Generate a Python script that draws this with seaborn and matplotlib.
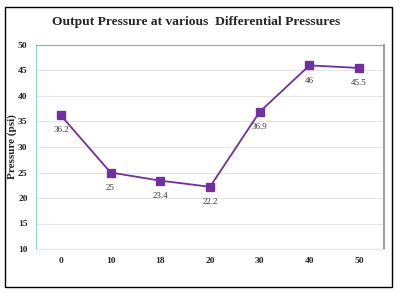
import matplotlib
matplotlib.use("Agg")
import matplotlib.pyplot as plt
import seaborn as sns
import pandas as pd
from matplotlib.patches import Rectangle

# data
diff_pressure = ["0", "10", "18", "20", "30", "40", "50"]
output_pressure = [36.2, 25, 23.4, 22.2, 36.9, 46, 45.5]

df = pd.DataFrame({"dp": diff_pressure, "out": output_pressure})

sns.set_style("white")
plt.rcParams["font.family"] = ["Liberation Serif", "DejaVu Serif"]

fig = plt.figure(figsize=(4.0, 2.95), dpi=100)
ax = fig.add_axes([36 / 400, 1 - 249 / 295, 348 / 400, 204 / 295])

purple = "#7030a0"
sns.pointplot(data=df, x="dp", y="out", color=purple, marker="s",
              markersize=6, linewidth=1.3, ax=ax)

for i, v in enumerate(output_pressure):
    ax.annotate(f"{v:g}", (i, v), xytext=(0, -8), textcoords="offset points",
                ha="center", va="top", fontsize=6.5, color="#333333")

ax.set_ylim(10, 50)
ax.set_yticks(range(10, 51, 5))
ax.set_xlim(-0.5, 6.5)
ax.grid(axis="y", color="#e4e4e4", linewidth=0.8)
ax.set_axisbelow(True)
ax.tick_params(axis="both", length=0, labelsize=6.8, pad=6)
for lab in ax.get_xticklabels() + ax.get_yticklabels():
    lab.set_fontweight("bold")
ax.set_xlabel("")
ax.set_ylabel("Pressure (psi)", fontsize=8, fontweight="bold", labelpad=1)

ax.spines["top"].set_color("#a0a0a0")
ax.spines["right"].set_color("#a0a0a0")
ax.spines["right"].set_linewidth(1.5)
ax.spines["left"].set_color("#8fd3cf")
ax.spines["bottom"].set_color("#e4e4e4")
ax.spines["bottom"].set_linewidth(0.8)

fig.text(0.49, 1 - 22 / 295, "Output Pressure at various  Differential Pressures",
         ha="center", va="center", fontsize=9.7, fontweight="bold")

fig.patches.append(Rectangle((5 / 400, 1 - 287 / 295), 387 / 400, 280 / 295,
                             transform=fig.transFigure, fill=False,
                             edgecolor="black", linewidth=1.0))

fig.savefig("out.png", dpi=100)
